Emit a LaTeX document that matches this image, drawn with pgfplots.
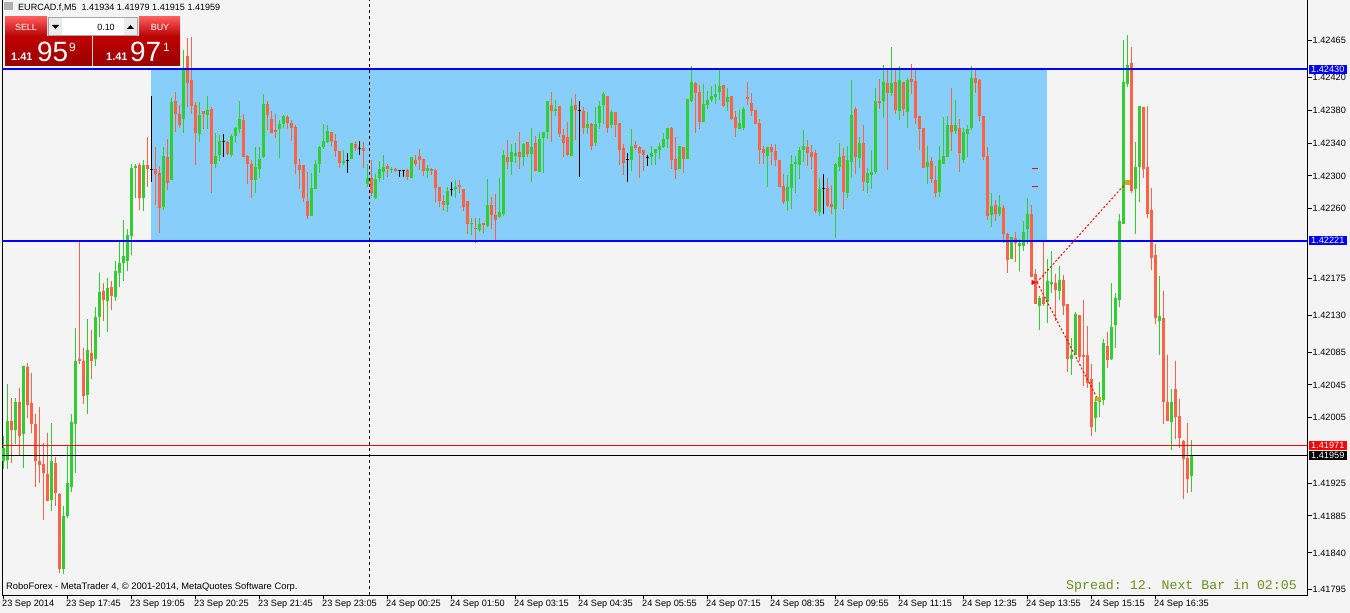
\documentclass[border=0pt]{standalone}
\usepackage{pgfplots}
\pgfplotsset{compat=1.18}
\usepackage{pgfplotstable}
\usepackage{fontspec}
\setmainfont{Liberation Sans}
\setmonofont{Liberation Mono}
\definecolor{bull}{HTML}{32CD32}
\definecolor{bear}{HTML}{FF6347}
\definecolor{rectblue}{HTML}{87CEFA}
\definecolor{bgc}{HTML}{F4F4F4}
\definecolor{spreadgreen}{HTML}{6B8E23}
\definecolor{tradeorange}{HTML}{DAA520}
\pgfplotstableread{
k o h l c
0 1.41953 1.41982 1.41942 1.41969
1 1.41953 1.42047 1.41943 1.42001
2 1.42001 1.42030 1.41951 1.41990
3 1.41990 1.42030 1.41974 1.42025
4 1.42024 1.42041 1.41959 1.41983
5 1.41985 1.42069 1.41944 1.42068
6 1.42068 1.42072 1.42005 1.42022
7 1.42024 1.42060 1.41987 1.41999
8 1.41999 1.42010 1.41921 1.41954
9 1.41952 1.42020 1.41927 1.41947
10 1.41949 1.41974 1.41881 1.41938
11 1.41938 1.41987 1.41905 1.41905
12 1.41905 1.41999 1.41891 1.41953
13 1.41950 1.41958 1.41898 1.41913
14 1.41913 1.41914 1.41816 1.41821
15 1.41821 1.41898 1.41815 1.41886
16 1.41885 1.41972 1.41883 1.41926
17 1.41921 1.42010 1.41914 1.42001
18 1.41998 1.42116 1.41938 1.42075
19 1.42077 1.42222 1.42072 1.42074
20 1.42076 1.42091 1.42022 1.42033
21 1.42033 1.42126 1.42010 1.42087
22 1.42085 1.42113 1.42054 1.42076
23 1.42077 1.42141 1.42069 1.42129
24 1.42129 1.42181 1.42103 1.42160
25 1.42160 1.42170 1.42124 1.42148
26 1.42148 1.42175 1.42109 1.42164
27 1.42164 1.42172 1.42136 1.42153
28 1.42153 1.42197 1.42148 1.42185
29 1.42182 1.42221 1.42166 1.42194
30 1.42194 1.42247 1.42172 1.42203
31 1.42197 1.42236 1.42185 1.42229
32 1.42227 1.42316 1.42205 1.42310
33 1.42310 1.42316 1.42274 1.42313
34 1.42313 1.42316 1.42258 1.42273
35 1.42273 1.42320 1.42258 1.42314
36 1.42314 1.42348 1.42288 1.42309
37 1.42309 1.42398 1.42292 1.42309
38 1.42309 1.42337 1.42266 1.42303
39 1.42304 1.42313 1.42231 1.42262
40 1.42262 1.42336 1.42259 1.42325
41 1.42324 1.42347 1.42284 1.42292
42 1.42297 1.42396 1.42296 1.42392
43 1.42392 1.42403 1.42354 1.42376
44 1.42377 1.42387 1.42359 1.42364
45 1.42370 1.42454 1.42352 1.42431
46 1.42448 1.42469 1.42384 1.42415
47 1.42418 1.42470 1.42376 1.42386
48 1.42387 1.42392 1.42315 1.42353
49 1.42352 1.42392 1.42343 1.42375
50 1.42379 1.42379 1.42358 1.42375
51 1.42375 1.42398 1.42358 1.42381
52 1.42381 1.42384 1.42279 1.42315
53 1.42314 1.42352 1.42310 1.42324
54 1.42326 1.42351 1.42319 1.42342
55 1.42343 1.42351 1.42324 1.42343
56 1.42342 1.42343 1.42326 1.42327
57 1.42326 1.42352 1.42324 1.42349
58 1.42349 1.42360 1.42340 1.42359
59 1.42357 1.42393 1.42354 1.42369
60 1.42369 1.42376 1.42324 1.42324
61 1.42325 1.42326 1.42291 1.42315
62 1.42315 1.42320 1.42274 1.42296
63 1.42296 1.42336 1.42279 1.42312
64 1.42309 1.42336 1.42298 1.42321
65 1.42323 1.42402 1.42323 1.42388
66 1.42388 1.42392 1.42357 1.42375
67 1.42371 1.42380 1.42354 1.42354
68 1.42357 1.42377 1.42347 1.42354
69 1.42358 1.42369 1.42323 1.42364
70 1.42364 1.42375 1.42359 1.42373
71 1.42373 1.42376 1.42359 1.42365
72 1.42365 1.42369 1.42343 1.42359
73 1.42360 1.42363 1.42304 1.42314
74 1.42314 1.42320 1.42284 1.42308
75 1.42314 1.42314 1.42269 1.42274
76 1.42271 1.42306 1.42248 1.42252
77 1.42252 1.42303 1.42252 1.42286
78 1.42285 1.42320 1.42285 1.42315
79 1.42315 1.42337 1.42304 1.42335
80 1.42335 1.42363 1.42333 1.42343
81 1.42341 1.42363 1.42341 1.42355
82 1.42354 1.42354 1.42336 1.42342
83 1.42342 1.42351 1.42323 1.42330
84 1.42331 1.42331 1.42310 1.42316
85 1.42316 1.42331 1.42313 1.42319
86 1.42320 1.42329 1.42304 1.42320
87 1.42320 1.42340 1.42320 1.42340
88 1.42340 1.42342 1.42330 1.42335
89 1.42335 1.42342 1.42326 1.42335
90 1.42335 1.42342 1.42310 1.42332
91 1.42291 1.42315 1.42287 1.42299
92 1.42298 1.42320 1.42276 1.42280
93 1.42275 1.42303 1.42273 1.42298
94 1.42298 1.42319 1.42293 1.42310
95 1.42306 1.42326 1.42295 1.42312
96 1.42312 1.42315 1.42299 1.42308
97 1.42308 1.42311 1.42304 1.42310
98 1.42309 1.42310 1.42306 1.42307
99 1.42308 1.42308 1.42299 1.42308
100 1.42308 1.42308 1.42299 1.42308
101 1.42308 1.42309 1.42296 1.42299
102 1.42297 1.42323 1.42297 1.42323
103 1.42320 1.42326 1.42312 1.42316
104 1.42325 1.42333 1.42308 1.42320
105 1.42320 1.42321 1.42301 1.42306
106 1.42307 1.42314 1.42298 1.42310
107 1.42309 1.42310 1.42301 1.42306
108 1.42308 1.42309 1.42269 1.42286
109 1.42287 1.42287 1.42263 1.42269
110 1.42270 1.42277 1.42257 1.42266
111 1.42265 1.42288 1.42257 1.42281
112 1.42285 1.42292 1.42276 1.42285
113 1.42285 1.42295 1.42273 1.42287
114 1.42290 1.42295 1.42280 1.42287
115 1.42285 1.42285 1.42258 1.42263
116 1.42269 1.42269 1.42230 1.42241
117 1.42242 1.42249 1.42229 1.42244
118 1.42238 1.42249 1.42219 1.42236
119 1.42235 1.42248 1.42231 1.42242
120 1.42243 1.42243 1.42231 1.42240
121 1.42240 1.42297 1.42238 1.42266
122 1.42264 1.42275 1.42236 1.42252
123 1.42253 1.42277 1.42220 1.42247
124 1.42251 1.42298 1.42249 1.42257
125 1.42255 1.42333 1.42252 1.42327
126 1.42324 1.42345 1.42310 1.42319
127 1.42318 1.42340 1.42302 1.42330
128 1.42325 1.42340 1.42316 1.42329
129 1.42330 1.42355 1.42309 1.42323
130 1.42323 1.42342 1.42313 1.42340
131 1.42342 1.42342 1.42323 1.42327
132 1.42327 1.42358 1.42292 1.42336
133 1.42341 1.42349 1.42307 1.42307
134 1.42306 1.42353 1.42306 1.42346
135 1.42346 1.42353 1.42303 1.42353
136 1.42354 1.42392 1.42345 1.42392
137 1.42388 1.42404 1.42343 1.42380
138 1.42380 1.42393 1.42374 1.42382
139 1.42385 1.42385 1.42348 1.42351
140 1.42351 1.42358 1.42323 1.42341
141 1.42347 1.42366 1.42325 1.42325
142 1.42325 1.42396 1.42325 1.42386
143 1.42386 1.42402 1.42345 1.42380
144 1.42381 1.42392 1.42299 1.42381
145 1.42381 1.42385 1.42352 1.42360
146 1.42359 1.42379 1.42352 1.42364
147 1.42364 1.42365 1.42333 1.42337
148 1.42341 1.42385 1.42337 1.42364
149 1.42365 1.42392 1.42358 1.42386
150 1.42387 1.42403 1.42364 1.42401
151 1.42398 1.42398 1.42353 1.42359
152 1.42364 1.42381 1.42359 1.42379
153 1.42379 1.42379 1.42348 1.42364
154 1.42365 1.42365 1.42313 1.42331
155 1.42335 1.42340 1.42302 1.42316
156 1.42321 1.42329 1.42293 1.42321
157 1.42320 1.42359 1.42308 1.42338
158 1.42338 1.42343 1.42331 1.42335
159 1.42336 1.42337 1.42298 1.42329
160 1.42332 1.42332 1.42306 1.42326
161 1.42324 1.42327 1.42313 1.42324
162 1.42324 1.42337 1.42313 1.42329
163 1.42327 1.42333 1.42314 1.42332
164 1.42332 1.42340 1.42320 1.42338
165 1.42337 1.42353 1.42335 1.42346
166 1.42346 1.42360 1.42335 1.42360
167 1.42360 1.42360 1.42308 1.42320
168 1.42321 1.42348 1.42296 1.42308
169 1.42308 1.42336 1.42308 1.42336
170 1.42335 1.42335 1.42304 1.42321
171 1.42320 1.42394 1.42320 1.42394
172 1.42391 1.42435 1.42391 1.42415
173 1.42414 1.42414 1.42352 1.42402
174 1.42403 1.42412 1.42358 1.42366
175 1.42366 1.42412 1.42366 1.42388
176 1.42386 1.42403 1.42381 1.42392
177 1.42394 1.42410 1.42391 1.42399
178 1.42398 1.42412 1.42388 1.42401
179 1.42402 1.42432 1.42394 1.42410
180 1.42412 1.42413 1.42386 1.42386
181 1.42391 1.42408 1.42380 1.42397
182 1.42397 1.42398 1.42368 1.42369
183 1.42371 1.42380 1.42348 1.42358
184 1.42358 1.42381 1.42358 1.42365
185 1.42360 1.42386 1.42358 1.42384
186 1.42397 1.42414 1.42386 1.42394
187 1.42390 1.42403 1.42374 1.42380
188 1.42381 1.42381 1.42364 1.42364
189 1.42364 1.42370 1.42315 1.42332
190 1.42332 1.42337 1.42315 1.42327
191 1.42325 1.42337 1.42288 1.42336
192 1.42336 1.42340 1.42315 1.42330
193 1.42331 1.42340 1.42313 1.42320
194 1.42320 1.42321 1.42288 1.42288
195 1.42288 1.42302 1.42266 1.42269
196 1.42270 1.42301 1.42258 1.42287
197 1.42286 1.42326 1.42260 1.42316
198 1.42315 1.42325 1.42280 1.42318
199 1.42314 1.42336 1.42297 1.42332
200 1.42331 1.42358 1.42319 1.42337
201 1.42337 1.42345 1.42313 1.42330
202 1.42331 1.42339 1.42310 1.42324
203 1.42329 1.42331 1.42255 1.42258
204 1.42257 1.42298 1.42252 1.42285
205 1.42286 1.42302 1.42254 1.42286
206 1.42286 1.42299 1.42263 1.42264
207 1.42266 1.42290 1.42254 1.42263
208 1.42260 1.42316 1.42225 1.42314
209 1.42312 1.42342 1.42307 1.42325
210 1.42325 1.42335 1.42260 1.42281
211 1.42280 1.42337 1.42274 1.42320
212 1.42319 1.42417 1.42298 1.42376
213 1.42382 1.42384 1.42303 1.42323
214 1.42323 1.42347 1.42309 1.42341
215 1.42340 1.42362 1.42282 1.42292
216 1.42292 1.42310 1.42279 1.42304
217 1.42302 1.42332 1.42285 1.42306
218 1.42306 1.42408 1.42303 1.42392
219 1.42392 1.42418 1.42382 1.42390
220 1.42391 1.42435 1.42371 1.42415
221 1.42415 1.42431 1.42308 1.42402
222 1.42402 1.42458 1.42398 1.42415
223 1.42415 1.42431 1.42376 1.42381
224 1.42380 1.42435 1.42370 1.42418
225 1.42415 1.42415 1.42374 1.42382
226 1.42380 1.42420 1.42360 1.42419
227 1.42419 1.42437 1.42401 1.42415
228 1.42416 1.42431 1.42364 1.42371
229 1.42373 1.42373 1.42333 1.42358
230 1.42359 1.42359 1.42310 1.42310
231 1.42312 1.42337 1.42291 1.42318
232 1.42318 1.42324 1.42292 1.42296
233 1.42295 1.42312 1.42274 1.42280
234 1.42281 1.42336 1.42274 1.42320
235 1.42315 1.42373 1.42315 1.42325
236 1.42325 1.42373 1.42324 1.42364
237 1.42364 1.42408 1.42331 1.42355
238 1.42355 1.42394 1.42352 1.42362
239 1.42359 1.42370 1.42306 1.42329
240 1.42319 1.42359 1.42316 1.42353
241 1.42352 1.42364 1.42325 1.42358
242 1.42358 1.42435 1.42356 1.42420
243 1.42420 1.42432 1.42403 1.42414
244 1.42418 1.42420 1.42369 1.42375
245 1.42374 1.42374 1.42321 1.42323
246 1.42326 1.42336 1.42247 1.42253
247 1.42253 1.42280 1.42238 1.42264
248 1.42266 1.42271 1.42246 1.42255
249 1.42254 1.42277 1.42252 1.42262
250 1.42262 1.42265 1.42218 1.42230
251 1.42230 1.42231 1.42182 1.42199
252 1.42199 1.42227 1.42199 1.42225
253 1.42225 1.42233 1.42196 1.42218
254 1.42215 1.42224 1.42185 1.42218
255 1.42215 1.42246 1.42209 1.42233
256 1.42235 1.42275 1.42218 1.42253
257 1.42255 1.42265 1.42177 1.42177
258 1.42180 1.42186 1.42144 1.42144
259 1.42142 1.42154 1.42112 1.42152
260 1.42153 1.42222 1.42143 1.42144
261 1.42146 1.42199 1.42121 1.42171
262 1.42168 1.42209 1.42158 1.42171
263 1.42170 1.42181 1.42124 1.42161
264 1.42161 1.42191 1.42149 1.42174
265 1.42174 1.42180 1.42131 1.42142
266 1.42144 1.42144 1.42061 1.42077
267 1.42077 1.42104 1.42059 1.42083
268 1.42083 1.42135 1.42082 1.42133
269 1.42131 1.42131 1.42075 1.42080
270 1.42083 1.42148 1.42044 1.42080
271 1.42081 1.42118 1.42042 1.42047
272 1.42052 1.42071 1.41983 1.41994
273 1.42005 1.42031 1.41988 1.42025
274 1.42025 1.42049 1.42007 1.42030
275 1.42027 1.42102 1.42022 1.42096
276 1.42094 1.42109 1.42065 1.42076
277 1.42076 1.42169 1.42075 1.42116
278 1.42118 1.42157 1.42090 1.42151
279 1.42149 1.42254 1.42140 1.42245
280 1.42242 1.42466 1.42242 1.42415
281 1.42413 1.42471 1.42408 1.42436
282 1.42438 1.42458 1.42280 1.42282
283 1.42285 1.42342 1.42230 1.42312
284 1.42312 1.42386 1.42269 1.42386
285 1.42384 1.42384 1.42298 1.42309
286 1.42312 1.42386 1.42249 1.42255
287 1.42258 1.42286 1.42186 1.42200
288 1.42204 1.42218 1.42120 1.42127
289 1.42123 1.42179 1.42083 1.42130
290 1.42127 1.42160 1.41998 1.42024
291 1.42024 1.42082 1.42001 1.42001
292 1.42001 1.42041 1.41966 1.42026
293 1.42041 1.42076 1.41981 1.42007
294 1.42008 1.42028 1.41969 1.41981
295 1.41978 1.41978 1.41906 1.41956
296 1.41956 1.41999 1.41913 1.41931
297 1.41934 1.41979 1.41915 1.41959
}\candles
\pgfplotsset{
  wick/.style={only marks, mark=*, mark size=0pt, mark options={draw=none, fill=none}, forget plot,
    error bars/y dir=both, error bars/y explicit, error bars/error mark=none,
    error bars/error bar style={solid, line width=1bp, line cap=butt, draw=#1}},
  body/.style={only marks, mark=*, mark size=0pt, mark options={draw=none, fill=none}, forget plot,
    error bars/y dir=both, error bars/y explicit, error bars/error mark=none,
    error bars/error bar style={solid, line width=3bp, line cap=butt, draw=#1}},
}
\newcommand{\lblfont}{\fontsize{9.2}{11}\selectfont}
\begin{document}
\begin{tikzpicture}
\fill[bgc] (0,0) rectangle (1350bp,613bp);
\begin{axis}[
  at={(2bp,18bp)}, anchor=south west,
  width=1305.5bp, height=595bp, scale only axis,
  xmin=-0.375, xmax=326.0, ymin=1.417886, ymax=1.425146,
  clip mode=individual,
  axis background/.style={fill=bgc},
  axis line style={line width=1bp, black},
  xtick pos=bottom, ytick pos=right, yticklabel pos=right,
  tick align=outside, major tick length=4bp,
  tick style={black, line width=1bp},
  xtick={0,16,...,288},
  xticklabels={23 Sep 2014, 23 Sep 17:45, 23 Sep 19:05, 23 Sep 20:25, 23 Sep 21:45, 23 Sep 23:05, 24 Sep 00:25, 24 Sep 01:50, 24 Sep 03:15, 24 Sep 04:35, 24 Sep 05:55, 24 Sep 07:15, 24 Sep 08:35, 24 Sep 09:55, 24 Sep 11:15, 24 Sep 12:35, 24 Sep 13:55, 24 Sep 15:15, 24 Sep 16:35},
  ytick={1.41795,1.41840,1.41885,1.41925,1.42005,1.42045,1.42085,1.42130,1.42175,1.42260,1.42300,1.42340,1.42380,1.42420,1.42465},
  yticklabels={1.41795,1.41840,1.41885,1.41925,1.42005,1.42045,1.42085,1.42130,1.42175,1.42260,1.42300,1.42340,1.42380,1.42420,1.42465},
  xticklabel style={font=\lblfont, anchor=north west, inner sep=0pt, xshift=-1.5bp, yshift=-1bp},
  yticklabel style={font=\lblfont, anchor=west, inner sep=0pt, xshift=1bp},
]
% rectangle object
\addplot[fill=rectblue, draw=none, forget plot] coordinates {(36.875,1.42221) (260.875,1.42221) (260.875,1.42430) (36.875,1.42430)} -- cycle;
% wicks
\addplot[restrict expr to domain={\thisrow{c}-\thisrow{o}}{0.000005:1}, wick=bull]
  table[x=k, y expr={(\thisrow{h}+\thisrow{l})/2}, y error expr={(\thisrow{h}-\thisrow{l})/2}] {\candles};
\addplot[restrict expr to domain={\thisrow{o}-\thisrow{c}}{0.000005:1}, wick=bear]
  table[x=k, y expr={(\thisrow{h}+\thisrow{l})/2}, y error expr={(\thisrow{h}-\thisrow{l})/2}] {\candles};
\addplot[restrict expr to domain={abs(\thisrow{c}-\thisrow{o})}{-1:0.000005}, wick=black]
  table[x=k, y expr={(\thisrow{h}+\thisrow{l})/2}, y error expr={(\thisrow{h}-\thisrow{l})/2}] {\candles};
% bodies
\addplot[restrict expr to domain={\thisrow{c}-\thisrow{o}}{0.000005:1}, body=bull]
  table[x=k, y expr={(\thisrow{o}+\thisrow{c})/2}, y error expr={max(abs(\thisrow{c}-\thisrow{o})/2,0.000006)}] {\candles};
\addplot[restrict expr to domain={\thisrow{o}-\thisrow{c}}{0.000005:1}, body=bear]
  table[x=k, y expr={(\thisrow{o}+\thisrow{c})/2}, y error expr={max(abs(\thisrow{c}-\thisrow{o})/2,0.000006)}] {\candles};
\addplot[restrict expr to domain={abs(\thisrow{c}-\thisrow{o})}{-1:0.000005}, body=black]
  table[x=k, y expr={(\thisrow{o}+\thisrow{c})/2}, y error expr={0.000006}] {\candles};
% horizontal levels
\addplot[blue, line width=2bp, forget plot] coordinates {(-0.375,1.42430) (326.0,1.42430)};
\addplot[blue, line width=2bp, forget plot] coordinates {(-0.375,1.42221) (326.0,1.42221)};
\addplot[red, line width=1bp, forget plot] coordinates {(-0.375,1.41971) (326.0,1.41971)};
\addplot[black, line width=1bp, forget plot] coordinates {(-0.375,1.41959) (326.0,1.41959)};
% vertical separator
\addplot[black, line width=1bp, dash pattern=on 3bp off 3bp, forget plot] coordinates {(91.375,1.417886) (91.375,1.425146)};
% trade lines
\addplot[red, line width=1bp, dash pattern=on 2bp off 2bp, forget plot] coordinates {(258.3,1.42170) (280.75,1.42292)};
\addplot[red, line width=1bp, dash pattern=on 2bp off 2bp, forget plot] coordinates {(258.4,1.42170) (273.5,1.42028)};
\addplot[red, line width=1bp, forget plot] coordinates {(257.2,1.42309) (258.7,1.42309)};
\addplot[red, line width=1bp, forget plot] coordinates {(257.2,1.42287) (258.7,1.42287)};
\addplot[only marks, mark=triangle*, mark size=2.5bp, mark options={rotate=-90, fill=red, draw=red}, forget plot] coordinates {(257.4,1.42170)};
\addplot[only marks, mark=square*, mark size=1.8bp, mark options={fill=tradeorange, draw=tradeorange}, forget plot] coordinates {(273.6,1.42028) (280.9,1.42292)};
% price boxes
\node[fill=blue, text=white, anchor=west, inner xsep=2.5bp, inner ysep=1.5bp, font=\lblfont, xshift=1bp] at (axis cs:326.0,1.42430) {1.42430};
\node[fill=blue, text=white, anchor=west, inner xsep=2.5bp, inner ysep=1.5bp, font=\lblfont, xshift=1bp] at (axis cs:326.0,1.42221) {1.42221};
\node[fill=red, text=white, anchor=west, inner xsep=2.5bp, inner ysep=1.5bp, font=\lblfont, xshift=1bp] at (axis cs:326.0,1.41971) {1.41971};
\node[fill=black, text=white, anchor=west, inner xsep=2.5bp, inner ysep=1.5bp, font=\lblfont, xshift=1bp] at (axis cs:326.0,1.41959) {1.41959};
\end{axis}
% title
\fill[gray!60] (4bp,603bp) rectangle (13bp,611bp);
\node[anchor=west, inner sep=0pt, font=\fontsize{9.1}{10}\selectfont] at (18bp,605bp) {EURCAD.f,M5\ \ 1.41934 1.41979 1.41915 1.41959};
% one-click trading panel
\shade[top color=red!65!white, bottom color=red!70!black] (5bp,576bp) rectangle (47bp,596bp);
\node[text=white, font=\fontsize{9}{10}\selectfont] at (26bp,586bp) {SELL};
\fill[white] (48bp,577bp) rectangle (138bp,596bp);
\draw[gray!70] (48.5bp,577.5bp) rectangle (137.5bp,595.5bp);
\fill[gray!15] (49bp,578bp) rectangle (62bp,595bp);
\fill[black] (52bp,588bp) -- (59bp,588bp) -- (55.5bp,584bp) -- cycle;
\fill[gray!15] (124bp,578bp) rectangle (137bp,595bp);
\fill[black] (127bp,584bp) -- (134bp,584bp) -- (130.5bp,588bp) -- cycle;
\node[font=\fontsize{9}{10}\selectfont] at (106bp,586bp) {0.10};
\shade[top color=red!65!white, bottom color=red!70!black] (139bp,576bp) rectangle (180bp,596bp);
\node[text=white, font=\fontsize{9}{10}\selectfont] at (160bp,586bp) {BUY};
\shade[top color=red!75!black, bottom color=red!60!black] (5bp,547bp) rectangle (92bp,576bp);
\shade[top color=red!75!black, bottom color=red!60!black] (93bp,547bp) rectangle (180bp,576bp);
\node[text=white, anchor=base west, inner sep=0pt, font=\bfseries\fontsize{11}{12}\selectfont] at (11bp,552bp) {1.41};
\node[text=white, anchor=base west, inner sep=0pt, font=\fontsize{28}{30}\selectfont] at (37bp,551bp) {95};
\node[text=white, anchor=base west, inner sep=0pt, font=\fontsize{12}{13}\selectfont] at (69bp,561bp) {9};
\node[text=white, anchor=base west, inner sep=0pt, font=\bfseries\fontsize{11}{12}\selectfont] at (106bp,552bp) {1.41};
\node[text=white, anchor=base west, inner sep=0pt, font=\fontsize{28}{30}\selectfont] at (130bp,551bp) {97};
\node[text=white, anchor=base west, inner sep=0pt, font=\fontsize{12}{13}\selectfont] at (163bp,561bp) {1};
% footer texts
\node[anchor=west, inner sep=0pt, font=\fontsize{9.4}{11}\selectfont] at (6bp,26bp) {RoboForex - MetaTrader 4, © 2001-2014, MetaQuotes Software Corp.};
\node[anchor=east, inner sep=0pt, text=spreadgreen, font=\ttfamily\fontsize{13.3}{14}\selectfont] at (1297bp,26.5bp) {Spread: 12. Next Bar in 02:05};
\pgfresetboundingbox
\path[use as bounding box] (0,0) rectangle (1350bp,613bp);
\end{tikzpicture}
\end{document}
